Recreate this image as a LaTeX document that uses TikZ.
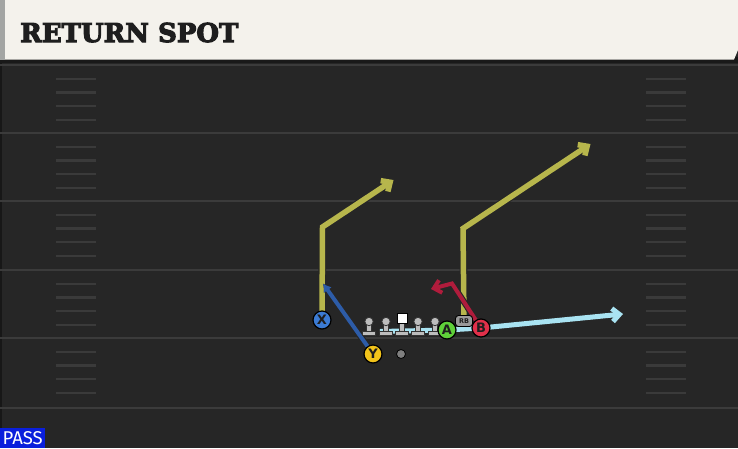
\documentclass[tikz,border=0pt]{standalone}
\usepackage{fontspec}
\setmainfont{DejaVu Serif}
\newfontfamily\titlefont{DejaVu Serif}[BoldFeatures={FakeBold=4}]
\newfontfamily\labfont{DejaVu Sans}
\newfontfamily\passfont{Fira Sans}
\usetikzlibrary{arrows.meta}
\definecolor{fieldbg}{HTML}{262626}
\definecolor{yardc}{HTML}{3B3B3B}
\definecolor{hashc}{HTML}{3A3A3A}
\definecolor{creamc}{HTML}{F4F2EC}
\definecolor{stripc}{HTML}{A3A5A3}
\definecolor{titlec}{HTML}{1E1E1E}
\definecolor{passblue}{HTML}{0A1FDC}
\definecolor{routey}{HTML}{B7B64C}
\definecolor{routeb}{HTML}{2D5CA8}
\definecolor{router}{HTML}{B01C3C}
\definecolor{routec}{HTML}{A9E3F2}
\definecolor{plX}{HTML}{3B7BD4}
\definecolor{plY}{HTML}{F2C31A}
\definecolor{plA}{HTML}{5FD03A}
\definecolor{plB}{HTML}{E0304A}
\definecolor{linec}{HTML}{BDBDBD}
\pgfdeclarelayer{field}
\pgfdeclarelayer{routes}
\pgfsetlayers{field,routes,main}
\tikzset{
  yard/.style={draw=yardc, line width=2.4pt},
  hashm/.style={draw=hashc, line width=2.2pt},
  player/.style={circle, draw=black, line width=1.2pt, minimum size=18pt, inner sep=0pt,
    font=\labfont\bfseries\fontsize{13}{13}\selectfont, text=titlec},
  routeout/.style={draw=black!85, line width=#1+2.2pt, line join=miter, line cap=butt,
    -{Straight Barb[length=7pt, width=13pt]}},
  routein/.style={line width=#1, line join=miter, line cap=butt,
    -{Straight Barb[length=7pt, width=13pt]}},
  lineman/.style={fill=linec, draw=black!80, line width=0.8pt},
}
\begin{document}
\begin{tikzpicture}[x=1pt,y=-1pt]
\useasboundingbox (0,0) rectangle (738,448);
\begin{pgfonlayer}{field}
  \fill[fieldbg] (0,0) rectangle (738,448);
  \fill[black!40!fieldbg] (0,63) rectangle (2,448);
  \foreach \yy in {65,133,201,270,338,408} {\draw[yard] (0,\yy) -- (738,\yy);}
  \foreach \yy in {65,133,201,270,338} {
    \foreach \dd in {14,27.5,41,55} {
      \draw[hashm] (56,\yy+\dd) -- (96,\yy+\dd);
      \draw[hashm] (646,\yy+\dd) -- (686,\yy+\dd);
    }
  }
  \fill[black!90] (0,57) rectangle (738,63);
  \fill[stripc] (0,0) rectangle (5,59.5);
  \fill[creamc] (5,0) -- (738,0) -- (738,50) -- (734,59.5) -- (5,59.5) -- cycle;
\end{pgfonlayer}

\node[anchor=base west, inner sep=0pt, text=titlec,
  font=\titlefont\bfseries\fontsize{26}{26}\selectfont] (title) at (20,42) {RETURN SPOT};

\node[fill=passblue, anchor=south west, minimum width=45pt, minimum height=20pt, inner sep=0pt,
  text=white, font=\passfont\fontsize{18.5}{18.5}\selectfont] (pass) at (0,448) {PASS};

% linemen
\foreach \lx in {369,386,418,435} {
  \filldraw[lineman] (\lx-2.2,321) rectangle (\lx+2.2,332);
  \filldraw[lineman] (\lx-6.8,331) rectangle (\lx+6.8,335.5);
  \filldraw[lineman] (\lx,321.5) circle (4.2pt);
}
\filldraw[lineman] (399.8,320) rectangle (404.2,332);
\filldraw[lineman] (395.2,331) rectangle (408.8,335.5);
\filldraw[fill=white, draw=black, line width=0.8pt] (397,313) rectangle (407,323);
\filldraw[fill=black!50, draw=black, line width=0.8pt] (401,354) circle (4.5pt);

% players
\node[player, fill=plX] (X) at (322,320) {X};
\node[player, fill=plY] (Y) at (373,354) {Y};
\node[player, fill=plA] (A) at (447,330) {A};
\node[player, fill=plB] (B) at (481,328) {B};
\node[draw=black, fill=black!40, rounded corners=3pt, line width=0.9pt, minimum width=17pt,
  minimum height=11pt, inner sep=0pt, text=titlec, font=\labfont\bfseries\fontsize{6.5}{6.5}\selectfont]
  (RB) at (464,321) {RB};

% route waypoints
\coordinate (xc) at (322.5,227);
\coordinate (xt) at (393.5,180);
\coordinate (rc) at (463,228.5);
\coordinate (rt) at (590.5,144);
\coordinate (yt) at (323,283.5);
\coordinate (bc) at (452,283.5);
\coordinate (bt) at (431,289);
\coordinate (cs) at (380,331.5);
\coordinate (ct) at (623,314);

\begin{pgfonlayer}{routes}
  % light blue
  \draw[routeout=5pt] (cs) -- (A.center) -- (B.center) -- (ct);
  \draw[routein=5pt, routec] (cs) -- (A.center) -- (B.center) -- (ct);
  % yellow from X
  \draw[routeout=5.5pt] (X.center) -- (xc) -- (xt);
  \draw[routein=5.5pt, routey] (X.center) -- (xc) -- (xt);
  % yellow from RB
  \draw[routeout=5.5pt] (RB.center) -- (rc) -- (rt);
  \draw[routein=5.5pt, routey] (RB.center) -- (rc) -- (rt);
  % blue from Y
  \draw[routeout=4pt, -{Latex[length=8pt, width=10pt]}] (Y.center) -- (yt);
  \draw[routein=4pt, routeb, -{Latex[length=8pt, width=10pt]}] (Y.center) -- (yt);
  % red from B
  \draw[routeout=4pt] (B.center) -- (bc) -- (bt);
  \draw[routein=4pt, router] (B.center) -- (bc) -- (bt);
\end{pgfonlayer}
\end{tikzpicture}
\end{document}
